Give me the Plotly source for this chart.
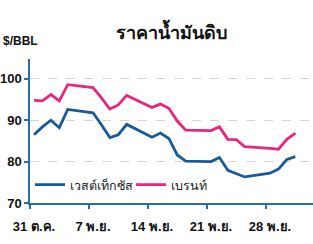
import plotly.graph_objects as go
import pandas as pd

wti_dates = ["2022-10-31","2022-11-01","2022-11-02","2022-11-03","2022-11-04",
             "2022-11-07","2022-11-08","2022-11-09","2022-11-10","2022-11-11",
             "2022-11-14","2022-11-15","2022-11-16","2022-11-17","2022-11-18",
             "2022-11-21","2022-11-22","2022-11-23","2022-11-25",
             "2022-11-28","2022-11-29","2022-11-30","2022-12-01"]
wti_values = [86.5, 88.4, 90.0, 88.2, 92.6,
              91.8, 88.9, 85.8, 86.5, 89.0,
              85.9, 86.9, 85.6, 81.6, 80.1,
              80.0, 81.0, 77.9, 76.3,
              77.2, 78.2, 80.5, 81.2]

brent_dates = ["2022-10-31","2022-11-01","2022-11-02","2022-11-03","2022-11-04",
               "2022-11-07","2022-11-08","2022-11-09","2022-11-10","2022-11-11",
               "2022-11-14","2022-11-15","2022-11-16","2022-11-17","2022-11-18",
               "2022-11-21","2022-11-22","2022-11-23","2022-11-24","2022-11-25",
               "2022-11-28","2022-11-29","2022-11-30","2022-12-01"]
brent_values = [94.8, 94.7, 96.2, 94.7, 98.6,
                97.9, 95.4, 92.7, 93.7, 96.0,
                93.1, 93.9, 92.9, 89.8, 87.6,
                87.5, 88.4, 85.4, 85.3, 83.6,
                83.2, 83.0, 85.4, 86.9]

tick_dates = ["2022-10-31", "2022-11-07", "2022-11-14", "2022-11-21", "2022-11-28"]
tick_labels = ["31 ต.ค.", "7 พ.ย.", "14 พ.ย.", "21 พ.ย.", "28 พ.ย."]
y_ticks = [70, 80, 90, 100]

series_names = ["เวสต์เท็กซัส", "เบรนท์"]
title_text = "ราคาน้ำมันดิบ"
unit_text = "$/BBL"

BLUE = "#175a9a"
PINK = "#e6267f"
AXIS = "#2a6cb0"
FONT = "Liberation Sans, Noto Sans, sans-serif"

fig = go.Figure()
fig.add_trace(go.Scatter(x=pd.to_datetime(wti_dates), y=wti_values, mode="lines",
                         name=series_names[0], line=dict(color=BLUE, width=2.8)))
fig.add_trace(go.Scatter(x=pd.to_datetime(brent_dates), y=brent_values, mode="lines",
                         name=series_names[1], line=dict(color=PINK, width=2.8)))

minor_ticks = [pd.Timestamp(d) - pd.Timedelta(hours=11) for d in tick_dates]

fig.update_layout(
    width=313, height=244,
    margin=dict(l=30, r=0, t=59, b=41, autoexpand=False),
    paper_bgcolor="white", plot_bgcolor="white",
    font=dict(family=FONT, color="#111111"),
    showlegend=True,
    legend=dict(orientation="h", x=0.0, y=0.125, xanchor="left", yanchor="middle",
                bgcolor="rgba(0,0,0,0)", font=dict(size=12.5, color="#222222"),
                itemwidth=30, entrywidth=56, tracegroupgap=0),
    title=dict(text=title_text, x=0.5, xref="paper", y=1 - 33/244, yref="container",
               yanchor="middle", font=dict(size=18, color="#111111", weight="bold")),
    annotations=[dict(text=unit_text, xref="paper", yref="paper", x=-29/283, y=1.0 + 18/144,
                      xanchor="left", yanchor="middle", showarrow=False,
                      font=dict(size=12, color="#111111", weight="bold"))],
)

fig.update_xaxes(
    range=[pd.Timestamp("2022-10-30 12:36"), pd.Timestamp("2022-12-03 02:24")],
    tickmode="array", tickvals=pd.to_datetime(tick_dates), ticktext=tick_labels,
    ticks="", showgrid=False, showline=True, linecolor=AXIS, linewidth=1.5,
    tickfont=dict(size=13, color="#111111", weight="bold"), ticklabelstandoff=11,
    minor=dict(tickmode="array", tickvals=minor_ticks, ticks="outside", ticklen=4,
               tickcolor=AXIS, tickwidth=1.5, showgrid=False),
    zeroline=False, automargin=False,
)
fig.update_yaxes(
    range=[70, 104.8], tickmode="array", tickvals=y_ticks,
    ticks="outside", ticklen=4, tickcolor=AXIS, tickwidth=1.5,
    showline=True, linecolor=AXIS, linewidth=1.5,
    showgrid=True, gridcolor="#d6d6d6", griddash="dash", gridwidth=1,
    tickfont=dict(size=13, color="#111111", weight="bold"), ticksuffix="\u2002",
    zeroline=False, automargin=False,
)

fig.write_html("out.html")
